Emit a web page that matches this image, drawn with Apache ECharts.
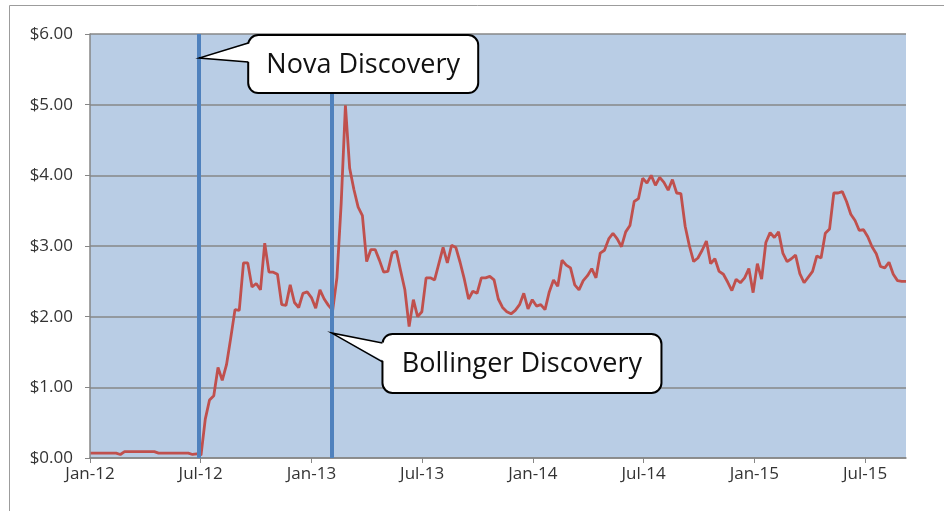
<!DOCTYPE html>
<html>
<head>
<meta charset="utf-8">
<script src="https://cdn.jsdelivr.net/npm/echarts@6/dist/echarts.min.js"></script>
<style>
html,body{margin:0;padding:0;background:#ffffff;}
#c{width:944px;height:511px;}
</style>
</head>
<body>
<div id="c"></div>
<script>
// ---- Data (weekly closing share price, USD) ----
// first weekly observation: 2 Jan 2012 (day 1 counted from 1 Jan 2012), one value per week
const firstDay = 1;
const daysPerStep = 7;

const closeWeeks000to051 = [
  0.07, 0.07, 0.07, 0.07, 0.07, 0.07, 0.07, 0.05, 0.09, 0.09,
  0.09, 0.09, 0.09, 0.09, 0.09, 0.09, 0.07, 0.07, 0.07, 0.07,
  0.07, 0.07, 0.07, 0.07, 0.05, 0.06, 0.04, 0.55, 0.82, 0.88,
  1.28, 1.10, 1.32, 1.70, 2.10, 2.09, 2.76, 2.76, 2.42, 2.47,
  2.38, 3.04, 2.63, 2.63, 2.60, 2.17, 2.16, 2.45, 2.20, 2.13,
  2.33, 2.35
];
const closeWeeks052to103 = [
  2.27, 2.12, 2.38, 2.25, 2.16, 2.09, 2.55, 3.60, 4.99, 4.10,
  3.80, 3.55, 3.43, 2.78, 2.95, 2.95, 2.80, 2.63, 2.64, 2.90,
  2.93, 2.65, 2.38, 1.86, 2.24, 2.00, 2.07, 2.55, 2.55, 2.52,
  2.75, 2.98, 2.76, 3.01, 2.98, 2.77, 2.53, 2.25, 2.36, 2.33,
  2.55, 2.55, 2.57, 2.52, 2.25, 2.13, 2.07, 2.04, 2.09, 2.17,
  2.33, 2.11
];
const closeWeeks104to155 = [
  2.24, 2.15, 2.17, 2.10, 2.35, 2.52, 2.43, 2.80, 2.73, 2.69,
  2.45, 2.38, 2.51, 2.58, 2.68, 2.55, 2.90, 2.94, 3.10, 3.18,
  3.10, 2.99, 3.20, 3.29, 3.63, 3.67, 3.96, 3.89, 4.00, 3.86,
  3.97, 3.90, 3.79, 3.94, 3.75, 3.74, 3.28, 3.00, 2.78, 2.83,
  2.94, 3.07, 2.75, 2.82, 2.64, 2.60, 2.49, 2.37, 2.53, 2.48,
  2.55, 2.68
];
const closeWeeks156to192 = [
  2.34, 2.75, 2.53, 3.05, 3.19, 3.12, 3.20, 2.90, 2.78, 2.82,
  2.87, 2.61, 2.48, 2.56, 2.64, 2.86, 2.83, 3.18, 3.24, 3.75,
  3.75, 3.77, 3.63, 3.45, 3.36, 3.22, 3.23, 3.13, 2.99, 2.89,
  2.71, 2.69, 2.77, 2.60, 2.51, 2.50, 2.50
];

// x tick labels, one every half year starting 1 Jan 2012
const xTickLabels = ['Jan-12', 'Jul-12', 'Jan-13', 'Jul-13', 'Jan-14', 'Jul-14', 'Jan-15', 'Jul-15'];
const halfYearDays = 182.5;

// discovery events (day counted from 1 Jan 2012) and the price level the callout points at
const eventNames = ['Nova Discovery', 'Bollinger Discovery'];
const eventDays = [180, 398];
const eventPointerValues = [5.66, 1.77];

// ---- Build ----
const closes = [].concat(closeWeeks000to051, closeWeeks052to103, closeWeeks104to155, closeWeeks156to192);
const seriesData = closes.map((v, i) => [firstDay + i * daysPerStep, v]);
const lastDay = firstDay + (closes.length - 1) * daysPerStep;

const chart = echarts.init(document.getElementById('c'), null, { renderer: 'canvas' });

const axisGray = '#868686';
const option = {
  animation: false,
  backgroundColor: '#ffffff',
  grid: {
    left: 90, right: 38, top: 34, bottom: 53,
    show: true, backgroundColor: '#b9cde5', borderWidth: 0,
    containLabel: false, outerBoundsMode: 'none'
  },
  xAxis: {
    type: 'value',
    min: 0,
    max: lastDay,
    interval: halfYearDays,
    axisLine: { show: true, onZero: false, lineStyle: { color: axisGray, width: 1.5 } },
    axisTick: { show: true, length: 5, lineStyle: { color: axisGray, width: 1 } },
    splitLine: { show: false },
    axisLabel: {
      margin: 8,
      fontFamily: 'Open Sans',
      fontSize: 17,
      color: '#333333',
      showMaxLabel: false,
      formatter: function (v) {
        const i = Math.round(v / halfYearDays);
        return (Math.abs(v - i * halfYearDays) < 0.01 && xTickLabels[i]) ? xTickLabels[i] : '';
      }
    }
  },
  yAxis: {
    type: 'value',
    min: 0,
    max: 6,
    interval: 1,
    axisLine: { show: true, lineStyle: { color: axisGray, width: 1.5 } },
    axisTick: { show: true, length: 5, lineStyle: { color: axisGray, width: 1 } },
    splitLine: { show: true, lineStyle: { color: '#878787', width: 1.5 } },
    axisLabel: {
      margin: 17,
      fontFamily: 'Open Sans',
      fontSize: 17,
      color: '#333333',
      formatter: function (v) { return '$' + v.toFixed(2); }
    }
  },
  series: [{
    type: 'line',
    data: seriesData,
    symbol: 'none',
    showSymbol: false,
    lineStyle: { color: '#c0504d', width: 2.8 },
    z: 3,
    markLine: {
      silent: true,
      symbol: ['none', 'none'],
      label: { show: false },
      lineStyle: { color: '#4f81bd', width: 4, type: 'solid' },
      emphasis: { disabled: true },
      data: eventDays.map(d => ({ xAxis: d }))
    }
  }]
};
chart.setOption(option);

// ---- Callouts anchored at the event dates ----
const calloutLayout = [
  { dx: 49, dy: -23, w: 230, h: 58, up: -15, low: 4 },
  { dx: 51, dy: 1, w: 279, h: 59, up: 10, low: 29 }
];
const graphics = [{
  type: 'rect',
  silent: true,
  z: 0,
  shape: { x: 9.5, y: 5.5, width: 1200, height: 1200 },
  style: { fill: null, stroke: '#9c9c9c', lineWidth: 1 }
}];
eventNames.forEach((name, i) => {
  const tip = chart.convertToPixel({ gridIndex: 0 }, [eventDays[i], eventPointerValues[i]]);
  const L = calloutLayout[i];
  const bx = tip[0] + L.dx, by = tip[1] + L.dy;
  const uy = tip[1] + L.up, ly = tip[1] + L.low;
  graphics.push({
    type: 'rect', silent: true, z: 100,
    shape: { x: bx, y: by, width: L.w, height: L.h, r: 10 },
    style: { fill: '#ffffff', stroke: '#000000', lineWidth: 2 }
  });
  graphics.push({
    type: 'polygon', silent: true, z: 101,
    shape: { points: [tip, [bx + 3, uy], [bx + 3, ly]] },
    style: { fill: '#ffffff', stroke: null }
  });
  graphics.push({
    type: 'polyline', silent: true, z: 102,
    shape: { points: [[bx, uy], tip, [bx, ly]] },
    style: { fill: null, stroke: '#000000', lineWidth: 1.5 }
  });
  graphics.push({
    type: 'text', silent: true, z: 103,
    style: {
      text: name, x: bx + L.w / 2, y: by + L.h / 2 + 1,
      textAlign: 'center', textVerticalAlign: 'middle',
      font: '27px "Open Sans"', fill: '#111111'
    }
  });
});
chart.setOption({ graphic: { elements: graphics } });
</script>
</body>
</html>
